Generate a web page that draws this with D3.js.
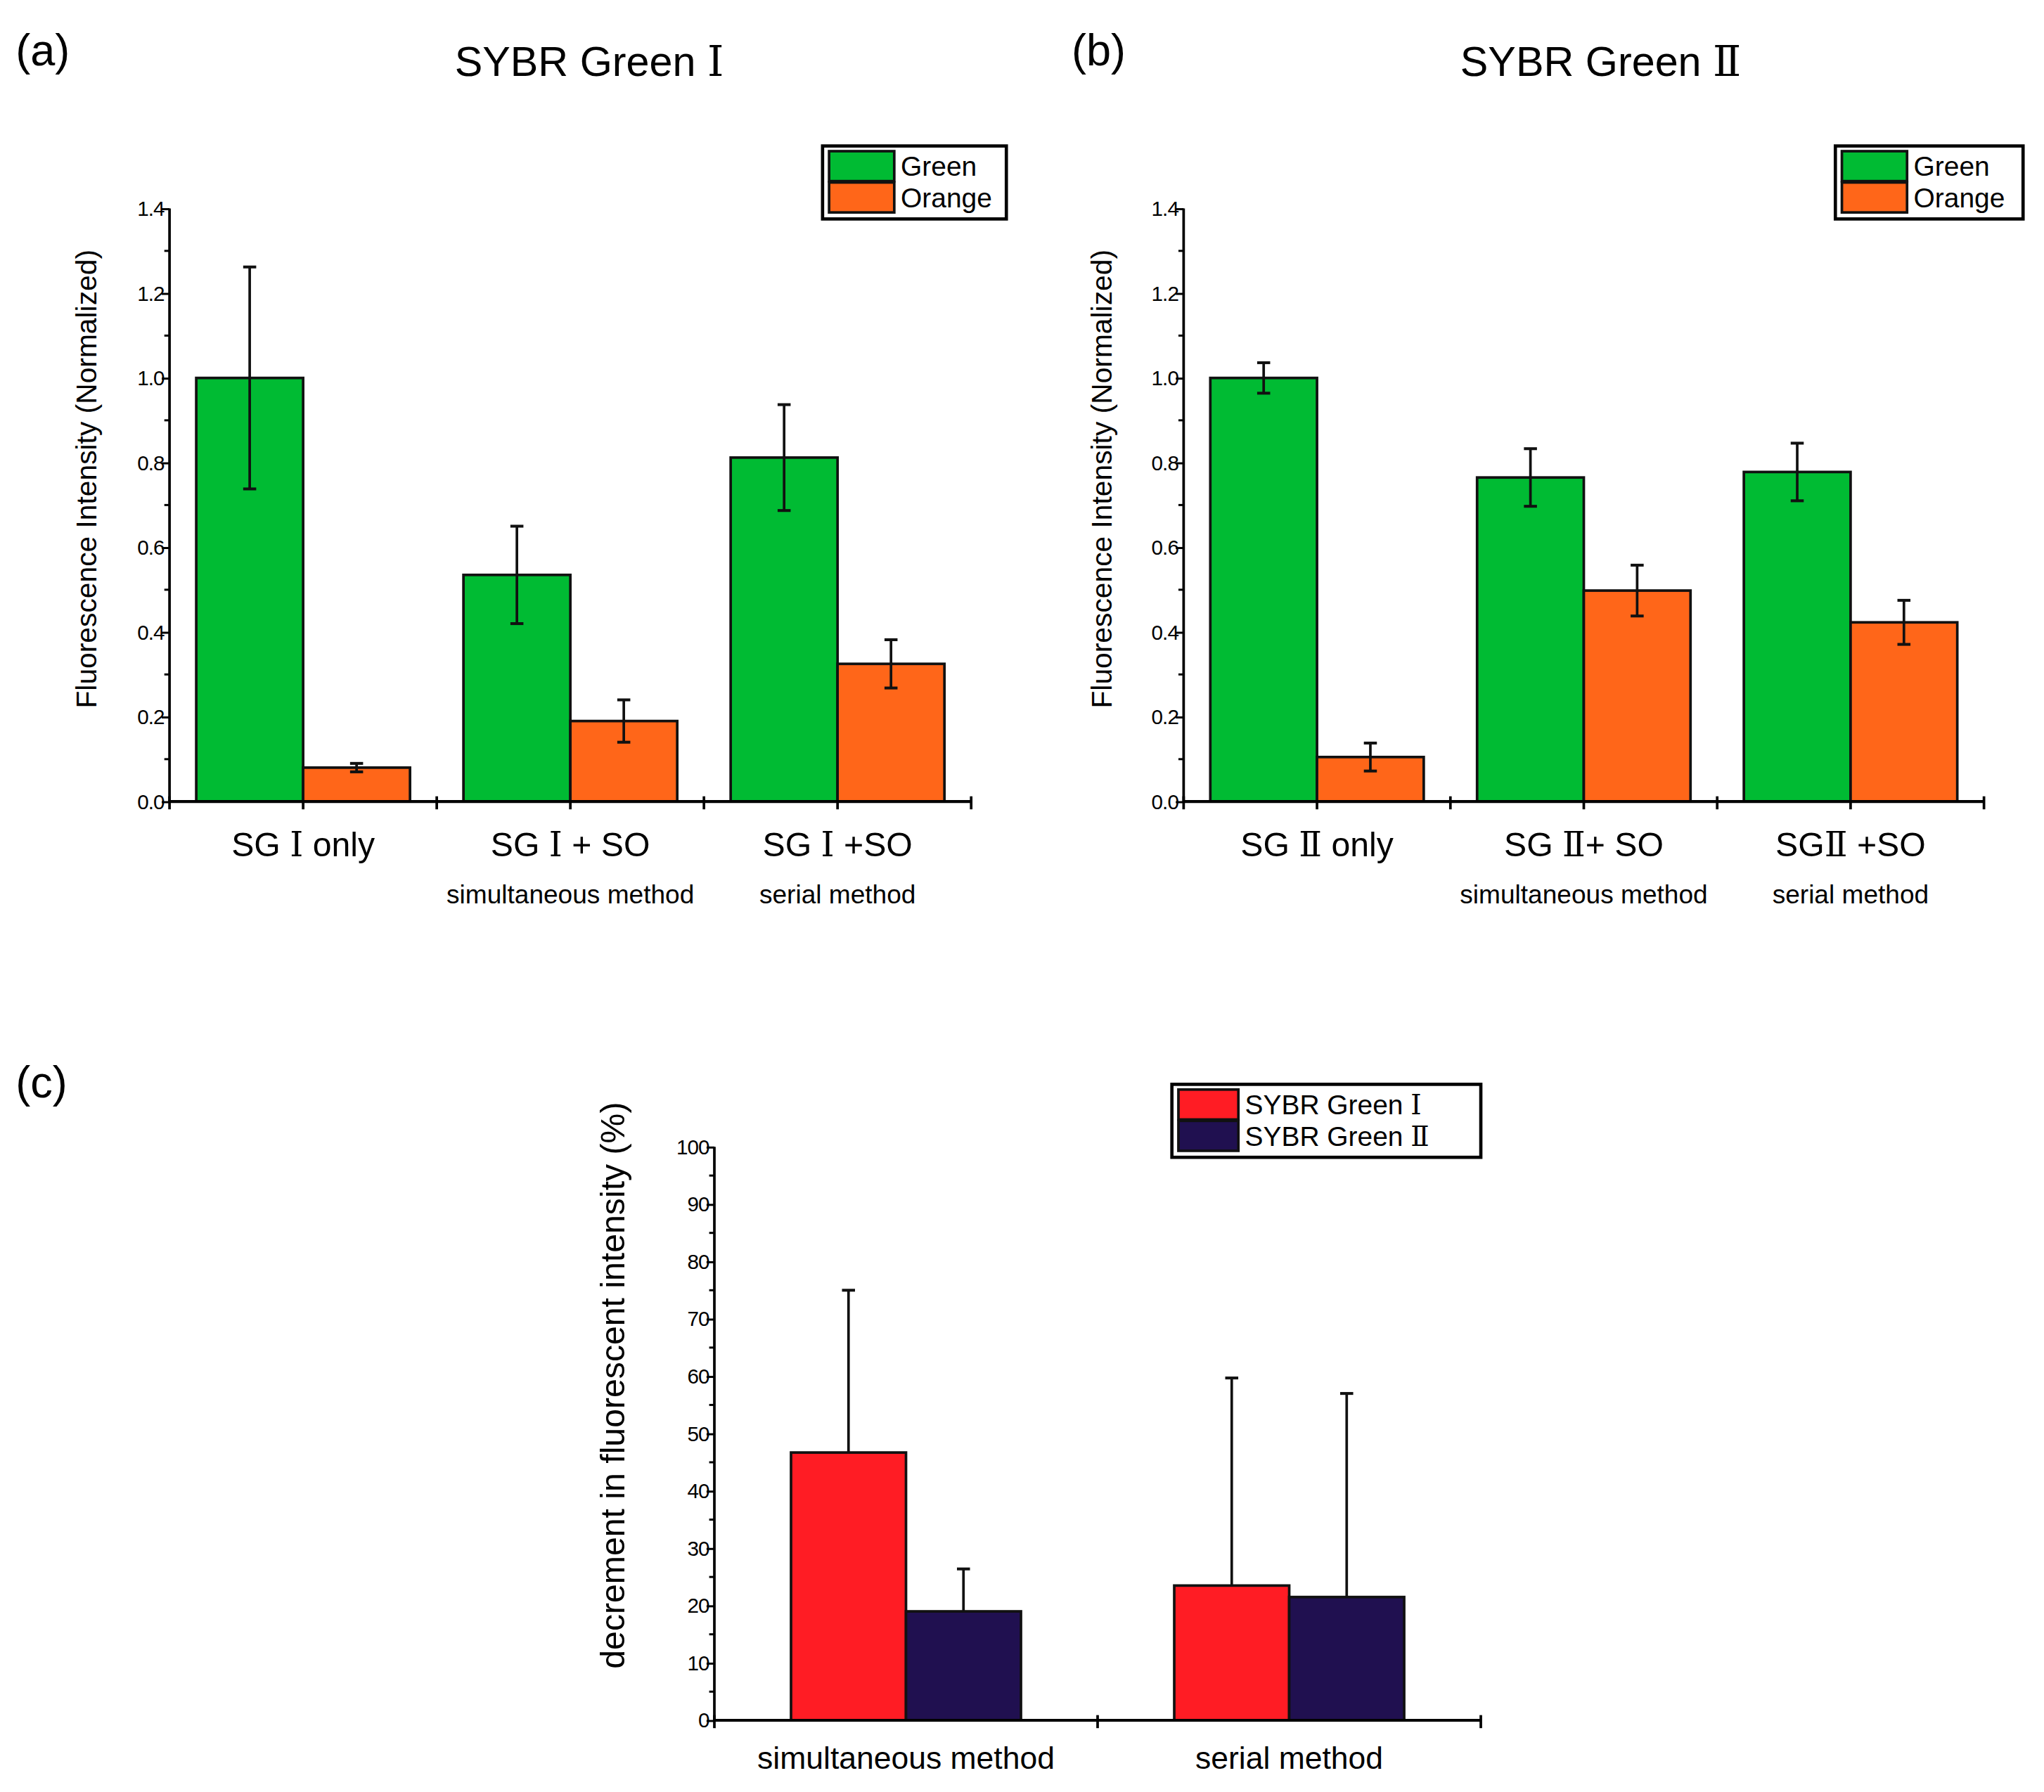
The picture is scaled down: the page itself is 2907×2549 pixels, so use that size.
<!DOCTYPE html>
<html><head><meta charset="utf-8">
<script src="https://cdnjs.cloudflare.com/ajax/libs/d3/7.8.5/d3.min.js"></script>
<style>body{margin:0;background:#fff}text{font-family:"Liberation Sans",Arial,sans-serif;fill:#000}</style>
</head><body>
<svg id="fig" width="2907" height="2549" viewBox="0 0 1568 1375"></svg>
<script>
// panel (a) / (b) data
var groupsA = ["SG Ⅰ only", "SG Ⅰ + SO", "SG Ⅰ +SO"];
var groupsB = ["SG Ⅱ only", "SG Ⅱ+ SO", "SGⅡ +SO"];
var subLabels = ["", "simultaneous method", "serial method"];
var greenA = [1.0, 0.535, 0.812], greenAErr = [0.262, 0.115, 0.125];
var orangeA = [0.08, 0.19, 0.325], orangeAErr = [0.01, 0.05, 0.057];
var greenB = [1.0, 0.765, 0.778], greenBErr = [0.036, 0.068, 0.068];
var orangeB = [0.105, 0.498, 0.423], orangeBErr = [0.033, 0.06, 0.052];
var yTicksAB = [0, 0.2, 0.4, 0.6, 0.8, 1.0, 1.2, 1.4];
// panel (c) data
var groupsC = ["simultaneous method", "serial method"];
var sg1C = [46.7, 23.5], sg1CErr = [28.3, 36.2];
var sg2C = [19.0, 21.5], sg2CErr = [7.4, 35.5];
var yTicksC = [0, 10, 20, 30, 40, 50, 60, 70, 80, 90, 100];

var svg = d3.select("#fig");
var roman = /([ⅠⅡ])/;

function richText(sel, str) {
  str.split(roman).forEach(function(p) {
    if (!p) return;
    var t = sel.append("tspan").text(p);
    if (roman.test(p)) t.style("font-family", "DejaVu Serif").style("font-weight", "300");
  });
}

function panel(opt) {
  var g = svg.append("g");
  var x = d3.scaleBand().domain(d3.range(opt.groups.length)).range([opt.x0, opt.x1]).paddingInner(opt.pad).paddingOuter(opt.pad / 2);
  var y = d3.scaleLinear().domain([0, opt.ymax]).range([opt.y0, opt.y1]);
  var sub = d3.scaleBand().domain([0, 1]).range([0, x.bandwidth()]);

  // bars
  opt.series.forEach(function(s, si) {
    s.vals.forEach(function(v, i) {
      var bx = x(i) + sub(si), bw = sub.bandwidth(), cx = bx + bw / 2;
      g.append("rect").attr("x", bx).attr("y", y(v)).attr("width", bw).attr("height", y(0) - y(v))
        .attr("fill", s.color).attr("stroke", "#111").attr("stroke-width", 2);
      var lo = opt.upOnly ? v : v - s.err[i], hi = v + s.err[i];
      g.append("line").attr("x1", cx).attr("x2", cx).attr("y1", y(lo)).attr("y2", y(hi)).attr("stroke", "#111").attr("stroke-width", 2);
      g.append("line").attr("x1", cx - 5).attr("x2", cx + 5).attr("y1", y(hi)).attr("y2", y(hi)).attr("stroke", "#111").attr("stroke-width", 2.2);
      if (!opt.upOnly) g.append("line").attr("x1", cx - 5).attr("x2", cx + 5).attr("y1", y(lo)).attr("y2", y(lo)).attr("stroke", "#111").attr("stroke-width", 2.2);
    });
  });

  // y axis
  var ya = g.append("g").attr("transform", "translate(" + opt.x0 + ",0)")
    .call(d3.axisLeft(y).tickValues(opt.yTicks).tickSize(6).tickFormat(opt.fmt));
  ya.select(".domain").attr("stroke-width", 2).attr("d", "M0," + y(0) + "V" + y(opt.ymax));
  ya.selectAll(".tick line").attr("stroke-width", 1.6);
  ya.selectAll(".tick text").attr("font-size", 16).attr("x", -4).attr("font-family", "Liberation Sans Narrow, Liberation Sans").style("letter-spacing", "-0.5px");
  var minor = [];
  for (var k = 0; k < opt.yTicks.length - 1; k++) minor.push((opt.yTicks[k] + opt.yTicks[k + 1]) / 2);
  g.selectAll(".minor").data(minor).enter().append("line")
    .attr("x1", opt.x0 - 4).attr("x2", opt.x0).attr("y1", function(d) { return y(d); }).attr("y2", function(d) { return y(d); })
    .attr("stroke", "#000").attr("stroke-width", 1.6);

  // x axis
  g.append("line").attr("x1", opt.x0).attr("x2", opt.x1).attr("y1", y(0)).attr("y2", y(0)).attr("stroke", "#000").attr("stroke-width", 2.2);
  var step = x.step();
  var bounds = d3.range(opt.groups.length + 1).map(function(i) { return opt.x0 + i * step; });
  g.selectAll(".bt").data(bounds).enter().append("line")
    .attr("x1", function(d) { return d; }).attr("x2", function(d) { return d; })
    .attr("y1", y(0) - 4).attr("y2", y(0) + 6).attr("stroke", "#000").attr("stroke-width", 2);
  if (opt.centerTicks) g.selectAll(".ct").data(opt.groups).enter().append("line")
    .attr("x1", function(d, i) { return x(i) + x.bandwidth() / 2; }).attr("x2", function(d, i) { return x(i) + x.bandwidth() / 2; })
    .attr("y1", y(0)).attr("y2", y(0) + 6).attr("stroke", "#000").attr("stroke-width", 2);
  opt.groups.forEach(function(lab, i) {
    var t = g.append("text").attr("x", x(i) + x.bandwidth() / 2).attr("y", y(0) + opt.labDy).attr("text-anchor", "middle").attr("font-size", opt.labSize);
    richText(t, lab);
    if (opt.subs && opt.subs[i]) g.append("text").attr("x", x(i) + x.bandwidth() / 2).attr("y", y(0) + 78).attr("text-anchor", "middle").attr("font-size", 20).text(opt.subs[i]);
  });

  // y label
  g.append("text").attr("transform", "translate(" + opt.ylabX + "," + ((y(0) + y(opt.ymax)) / 2 + opt.ylabShift) + ") rotate(-90)")
    .attr("text-anchor", "middle").attr("font-size", opt.ylabSize).text(opt.ylab);

  // legend
  var L = opt.legend;
  g.append("rect").attr("x", L.x).attr("y", L.y).attr("width", L.w).attr("height", L.h).attr("fill", "#fff").attr("stroke", "#000").attr("stroke-width", 2.5);
  opt.series.forEach(function(s, si) {
    var ry = L.y + 4 + si * (L.h - 8) / 2;
    g.append("rect").attr("x", L.x + 5).attr("y", ry).attr("width", L.sw).attr("height", (L.h - 8) / 2 - 1)
      .attr("fill", s.color).attr("stroke", "#111").attr("stroke-width", 2);
    var t = g.append("text").attr("x", L.x + L.sw + 10).attr("y", ry + (L.h - 8) / 4 + 7).attr("font-size", L.fs);
    richText(t, s.name);
  });

  if (opt.title) { var tt = g.append("text").attr("x", opt.title.x).attr("y", 58).attr("text-anchor", "middle").attr("font-size", 32); richText(tt, opt.title.t); }
  g.append("text").attr("x", opt.tag.x).attr("y", opt.tag.y).attr("font-size", 34).text(opt.tag.t);
}

var green = "#00bb33", orange = "#ff6619";
panel({ groups: groupsA, subs: subLabels, x0: 130, x1: 745, y0: 615, y1: 160, ymax: 1.4, pad: 0.2, yTicks: yTicksAB, fmt: d3.format(".1f"),
  series: [{ name: "Green", color: green, vals: greenA, err: greenAErr }, { name: "Orange", color: orange, vals: orangeA, err: orangeAErr }],
  centerTicks: true, labDy: 42, labSize: 26, ylab: "Fluorescence Intensity (Normalized)", ylabX: 74, ylabShift: -20, ylabSize: 22,
  legend: { x: 631, y: 112, w: 141, h: 56, sw: 50, fs: 21 }, title: { x: 452, t: "SYBR Green  Ⅰ" }, tag: { x: 12, y: 50, t: "(a)" } });
panel({ groups: groupsB, subs: subLabels, x0: 908, x1: 1522, y0: 615, y1: 160, ymax: 1.4, pad: 0.2, yTicks: yTicksAB, fmt: d3.format(".1f"),
  series: [{ name: "Green", color: green, vals: greenB, err: greenBErr }, { name: "Orange", color: orange, vals: orangeB, err: orangeBErr }],
  centerTicks: true, labDy: 42, labSize: 26, ylab: "Fluorescence Intensity (Normalized)", ylabX: 853, ylabShift: -20, ylabSize: 22,
  legend: { x: 1408, y: 112, w: 144, h: 56, sw: 50, fs: 21 }, title: { x: 1228, t: "SYBR Green  Ⅱ" }, tag: { x: 822, y: 50, t: "(b)" } });
panel({ groups: groupsC, x0: 548, x1: 1136, y0: 1320, y1: 880, ymax: 100, pad: 0.4, yTicks: yTicksC, fmt: d3.format("d"),
  series: [{ name: "SYBR Green  Ⅰ", color: "#ff1c24", vals: sg1C, err: sg1CErr }, { name: "SYBR Green  Ⅱ", color: "#201050", vals: sg2C, err: sg2CErr }],
  upOnly: true, centerTicks: false, labDy: 37, labSize: 24, ylab: "decrement in fluorescent intensity (%)", ylabX: 479, ylabShift: -37, ylabSize: 26,
  legend: { x: 899, y: 832, w: 237, h: 56, sw: 46, fs: 21 }, tag: { x: 12, y: 842, t: "(c)" } });
</script>
</body></html>
